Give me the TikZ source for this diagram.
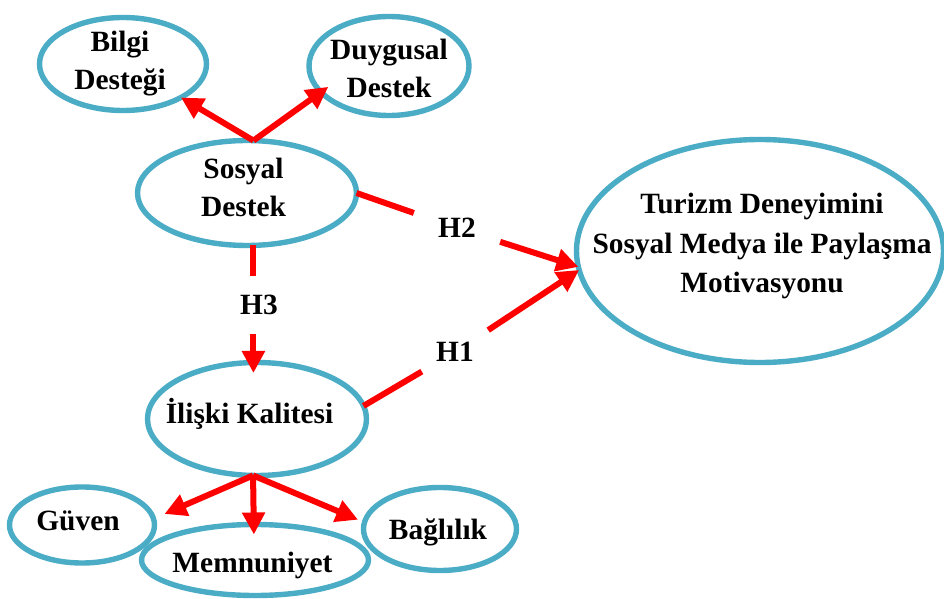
\documentclass[tikz,border=0pt]{standalone}
\usepackage{fontspec}
\setmainfont{Liberation Serif}
\usetikzlibrary{shapes.geometric,arrows.meta}
\definecolor{tealb}{HTML}{4BACC6}
\definecolor{redc}{HTML}{FF0000}
\begin{document}
\begin{tikzpicture}[x=0.5pt,y=-0.5pt,
  ell/.style={ellipse,draw=tealb,line width=2.7pt,inner sep=0pt,outer sep=0pt},
  lab/.style={font=\fontsize{14.7}{19}\selectfont\bfseries,align=center,inner sep=0pt},
  conn/.style={draw=redc,line width=3pt},
  arr/.style={conn,-{Triangle[length=11pt,width=11pt]}},
  hyp/.style={font=\fontsize{14.7}{19}\selectfont\bfseries,inner xsep=7.5pt,inner ysep=9.35pt}
]
\fill[white] (0,0) rectangle (944,599);
\useasboundingbox (0,0) rectangle (944,599);

\node[ell,minimum width=83.5pt,minimum height=46.5pt,
  label={[lab,xshift=-1.5pt]center:Bilgi\\Desteği}] (bd) at (123,64) {};
\node[ell,minimum width=80pt,minimum height=49.5pt,
  label={[lab,yshift=-1pt]center:Duygusal\\Destek}] (dd) at (389,66) {};
\node[ell,minimum width=109.5pt,minimum height=52.5pt,
  label={[lab,yshift=3pt,xshift=-1.75pt]center:Sosyal\\Destek}] (sd) at (247,193) {};
\node[ell,minimum width=109.5pt,minimum height=56.5pt,
  label={[lab,yshift=2.75pt,xshift=-3.75pt]center:İlişki Kalitesi}] (ik) at (257,419) {};
\node[ell,minimum width=72.5pt,minimum height=38pt,
  label={[lab,yshift=2.25pt,xshift=-2pt]center:Güven}] (gv) at (82,525) {};
\node[ell,minimum width=113.5pt,minimum height=35.5pt,
  label={[lab,yshift=-2.75pt,xshift=-1.25pt]center:Memnuniyet}] (mn) at (255,560) {};
\node[ell,minimum width=76.5pt,minimum height=41.5pt,
  label={[lab,yshift=-1.75pt,xshift=-1pt]center:Bağlılık}] (bg) at (440,529) {};
\node[ell,minimum width=183.5pt,minimum height=111.5pt,
  label={[lab,yshift=2.5pt,xshift=1pt,font=\fontsize{14.7}{19.75}\selectfont\bfseries]center:Turizm Deneyimini\\Sosyal Medya ile Paylaşma\\Motivasyonu}] (tm) at (760,251) {};

\node[hyp,inner xsep=12pt,inner ysep=6pt] (h2) at (457,228) {H2};
\node[hyp,inner xsep=7pt] (h1) at (455,352) {H1};
\node[hyp] (h3) at (259,305) {H3};

\draw[arr] (sd.83) -- (bd.-30);
\draw[arr,shorten >=-4.5pt] (sd.83) -- (dd.201);
\draw[conn] (sd.east) -- (h2);
\draw[arr] (h2) -- (tm.185);
\draw[conn] (ik.7) -- (h1);
\draw[arr] (h1) -- (tm.186);
\draw[conn] (sd.-83) -- (sd.-83 |- h3.north);
\draw[arr,shorten >=-5.25pt] (sd.-83 |- h3.south) -- (sd.-83 |- ik.north);
\draw[arr,shorten >=6pt] (ik.-94) -- (gv.5);
\draw[arr,shorten >=-5pt] (ik.-94) -- (mn.92);
\draw[arr,shorten >=3.5pt] (ik.-94) -- (bg.175);
\end{tikzpicture}
\end{document}
